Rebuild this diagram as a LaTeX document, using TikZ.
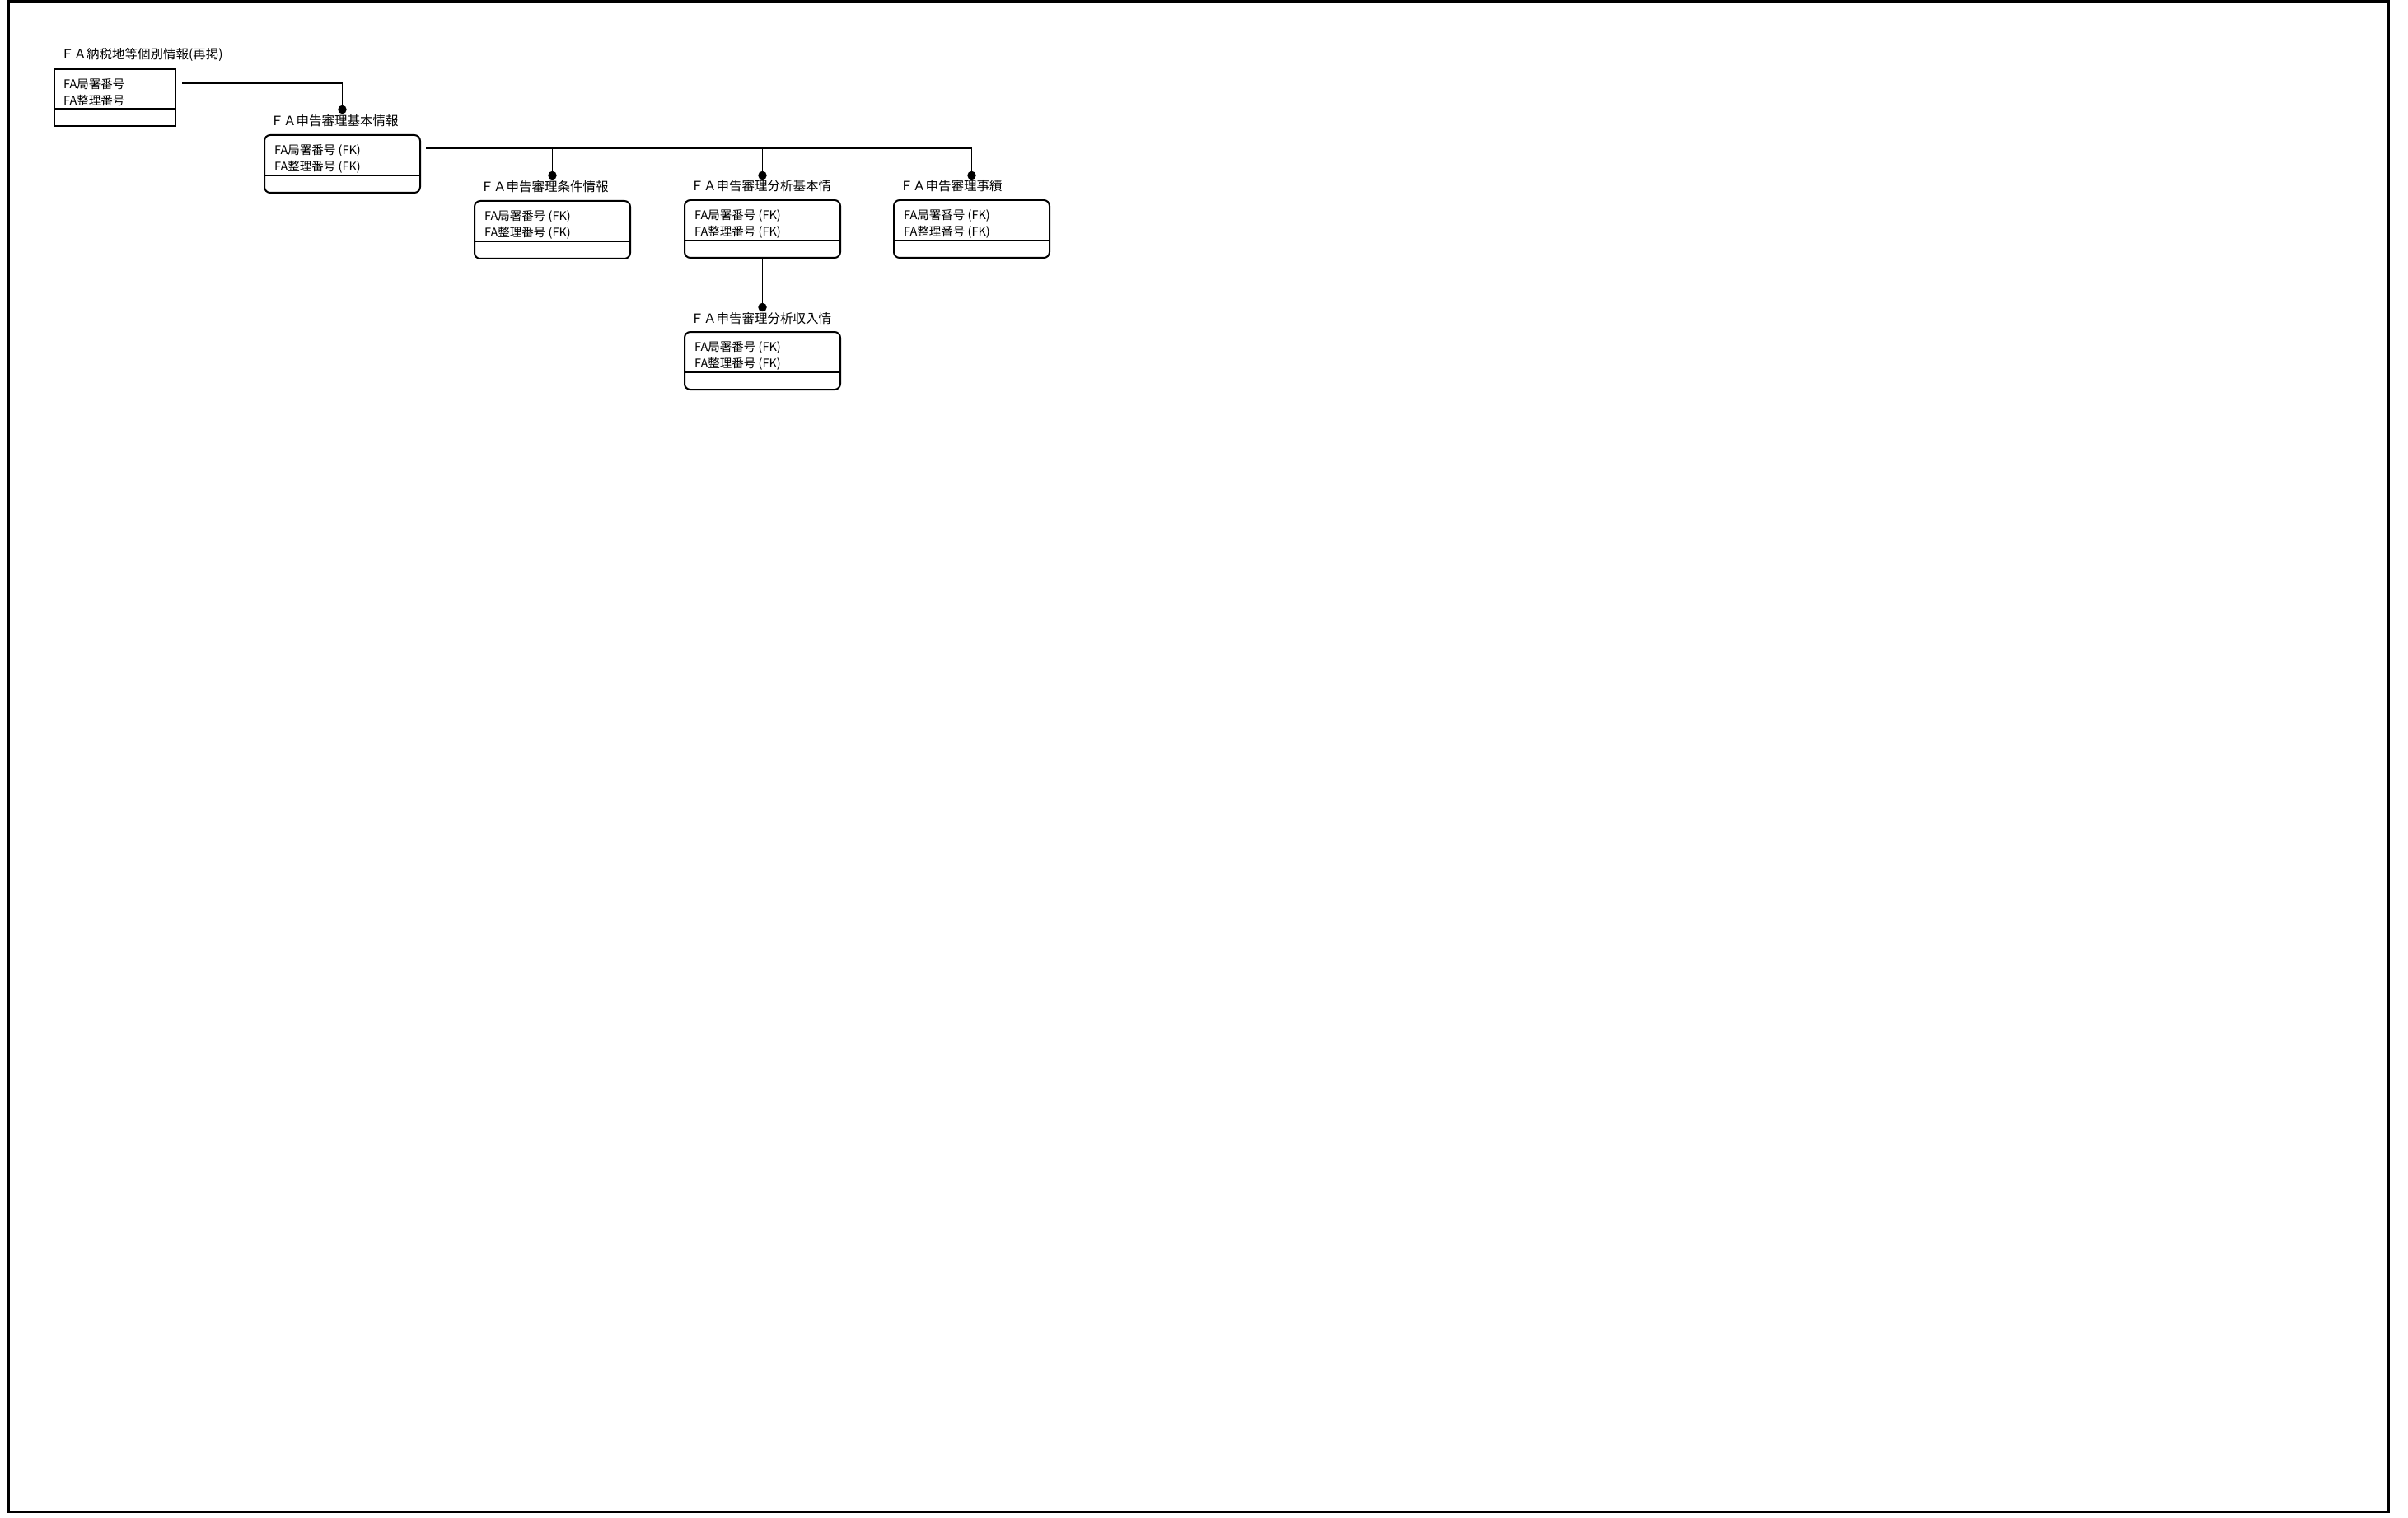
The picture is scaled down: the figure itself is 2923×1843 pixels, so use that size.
\documentclass[tikz,border=0pt]{standalone}
\usepackage{fontspec}
\setmainfont{Noto Sans CJK JP}
\usetikzlibrary{positioning,calc}

\begin{document}
\begin{tikzpicture}[
        x=1pt,y=-1pt,
        ent/.style={draw,line width=2pt,anchor=north west,inner sep=0pt,minimum width=147pt,minimum height=69pt},
        dep/.style={ent,rounded corners=7pt,minimum width=189pt,minimum height=70pt},
        % dep/.style={ent,minimum width=189pt,minimum height=70pt},
        title/.style={anchor=base west,inner sep=0pt,font=\fontsize{15.5}{18}\selectfont},
        keys/.style={anchor=north west,inner sep=0pt,align=left,font=\fontsize{14.5}{20}\selectfont},
        dot/.style={circle,fill=black,inner sep=0pt,minimum size=10.5pt},
        rel/.style={line width=1.8pt},
        div/.style={line width=2pt},
        ]
    \useasboundingbox (0,0) rectangle (2923,1843);
    \draw[line width=3.5pt] (10,2) rectangle (2899.5,1835.5);

    % entities
    \node[ent] (nozei) at (65,83) {};
    \node[dep] (kihon) at (320,163) {};
    \node[dep] (joken) at (575,243) {};
    \node[dep] (bunseki) at (830,242) {};
    \node[dep] (jiseki) at (1084,242) {};
    \node[dep] (shunyu) at (830,402) {};

    % titles
    \node[title] (nozei-t) at ($(nozei.north west)+(9,-11)$) {ＦＡ納税地等個別情報(再掲)};
    \node[title] (kihon-t) at ($(kihon.north west)+(8.5,-10)$) {ＦＡ申告審理基本情報};
    \node[title] (joken-t) at ($(joken.north west)+(8.5,-10)$) {ＦＡ申告審理条件情報};
    \node[title] (bunseki-t) at ($(bunseki.north west)+(8.5,-10)$) {ＦＡ申告審理分析基本情};
    \node[title] (jiseki-t) at ($(jiseki.north west)+(8.5,-10)$) {ＦＡ申告審理事績};
    \node[title] (shunyu-t) at ($(shunyu.north west)+(8.5,-10)$) {ＦＡ申告審理分析収入情};

    % key attributes
    \node[keys] (nozei-k) at ($(nozei.north west)+(12,12)$) {FA局署番号\\FA整理番号};
    \node[keys] (kihon-k) at ($(kihon.north west)+(13,12)$) {FA局署番号 (FK)\\FA整理番号 (FK)};
    \node[keys] (joken-k) at ($(joken.north west)+(13,12)$) {FA局署番号 (FK)\\FA整理番号 (FK)};
    \node[keys] (bunseki-k) at ($(bunseki.north west)+(13,12)$) {FA局署番号 (FK)\\FA整理番号 (FK)};
    \node[keys] (jiseki-k) at ($(jiseki.north west)+(13,12)$) {FA局署番号 (FK)\\FA整理番号 (FK)};
    \node[keys] (shunyu-k) at ($(shunyu.north west)+(13,12)$) {FA局署番号 (FK)\\FA整理番号 (FK)};

    \draw[div] ($(nozei.north west)+(0,49)$) -- ($(nozei.north east)+(0,49)$);
    \draw[div] ($(kihon.north west)+(0,50)$) -- ($(kihon.north east)+(0,50)$);
    \draw[div] ($(joken.north west)+(0,50)$) -- ($(joken.north east)+(0,50)$);
    \draw[div] ($(bunseki.north west)+(0,50)$) -- ($(bunseki.north east)+(0,50)$);
    \draw[div] ($(jiseki.north west)+(0,50)$) -- ($(jiseki.north east)+(0,50)$);
    \draw[div] ($(shunyu.north west)+(0,50)$) -- ($(shunyu.north east)+(0,50)$);

    % relationships
    \node[dot] (kihon-d) at ($(kihon.north)+(0,-30)$) {};
    \node[dot] (joken-d) at ($(joken.north)+(0,-30)$) {};
    \node[dot] (bunseki-d) at ($(bunseki.north)+(0,-29)$) {};
    \node[dot] (jiseki-d) at ($(jiseki.north)+(0,-29)$) {};
    \node[dot] (shunyu-d) at ($(shunyu.north)+(0,-29)$) {};
    \coordinate (nozei-o) at ($(nozei.north east)+(7,18)$);
    \coordinate (kihon-o) at ($(kihon.north east)+(6,17)$);
    \draw[rel] (nozei-o) -| (kihon-d);
    \draw[rel] (kihon-o) -| (joken-d);
    \draw[rel] (kihon-o) -| (bunseki-d);
    \draw[rel] (kihon-o) -| (jiseki-d);
    \draw[rel] (bunseki) -- (shunyu-d);
\end{tikzpicture}
\end{document}
